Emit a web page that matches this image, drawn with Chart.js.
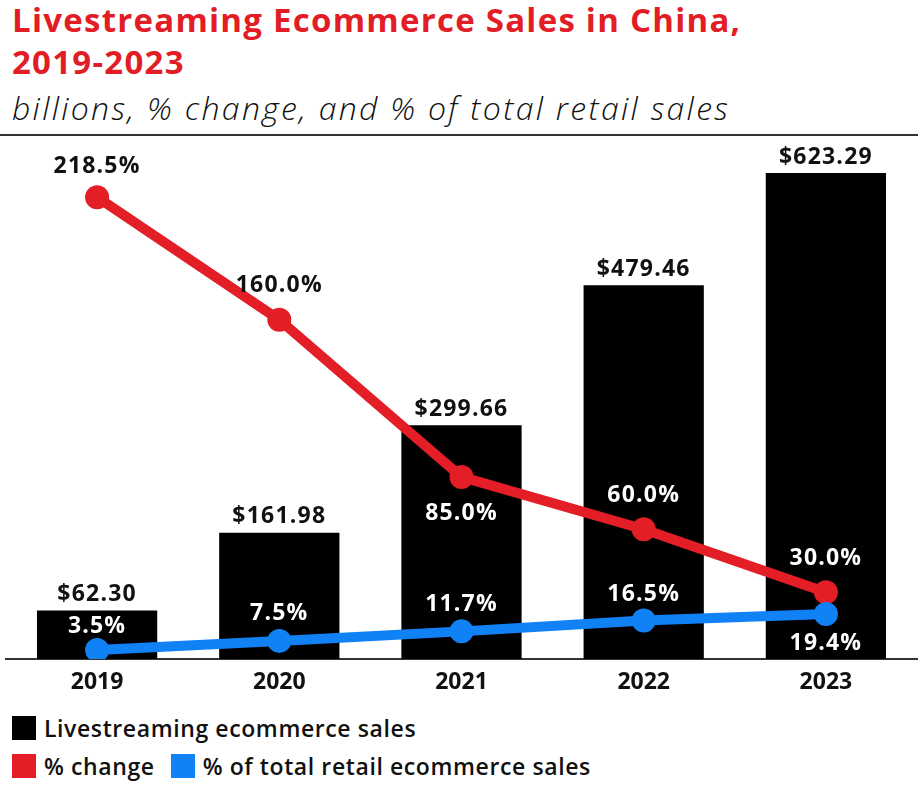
<!DOCTYPE html>
<html>
<head>
<meta charset="utf-8">
<script src="https://cdn.jsdelivr.net/npm/chart.js@4.4.0/dist/chart.umd.min.js"></script>
<style>
  html, body { margin: 0; padding: 0; background: #fff; }
  body { width: 918px; height: 790px; position: relative; overflow: hidden; font-family: "Open Sans", sans-serif; }
  .title { position: absolute; left: 12px; top: -1px; font-family: "Open Sans", sans-serif; font-weight: 700; font-size: 33px; line-height: 42px; color: #e21d25; letter-spacing: 1.25px; white-space: nowrap; }
  .sub { position: absolute; left: 12px; top: 89px; font-family: "Open Sans", sans-serif; font-weight: 300; font-style: italic; font-size: 32px; line-height: 38px; color: #111; letter-spacing: 2.3px; white-space: nowrap; }
  .rule { position: absolute; left: 0; top: 134px; width: 918px; height: 2px; background: #333; }
  .wrap { position: absolute; left: 0; top: 137px; width: 918px; height: 563px; }
  .legend { position: absolute; left: 12px; font-weight: 600; font-size: 23px; color: #111; display: flex; align-items: center; letter-spacing: 0.6px; white-space: nowrap; }
  .legend span.box { display: inline-block; width: 24px; height: 24px; margin-right: 8px; }
</style>
</head>
<body>
<div class="title">Livestreaming Ecommerce Sales in China,<br>2019-2023</div>
<div class="sub">billions, % change, and % of total retail sales</div>
<div class="rule"></div>
<div class="wrap"><canvas id="myChart"></canvas></div>
<div class="legend" style="top:712px"><span class="box" style="background:#000"></span>Livestreaming ecommerce sales</div>
<div class="legend" style="top:750px"><span class="box" style="background:#e41e26"></span>% change<span class="box" style="background:#1181f6;margin-left:16px"></span>% of total retail ecommerce sales</div>
<script>
const ctx = document.getElementById('myChart');

// data
const years = ['2019', '2020', '2021', '2022', '2023'];
const salesBillions = [62.30, 161.98, 299.66, 479.46, 623.29];   // livestreaming ecommerce sales, $ billions
const pctChange = [218.5, 160.0, 85.0, 60.0, 30.0];           // % change
const pctOfTotal = [3.5, 7.5, 11.7, 16.5, 19.4];              // % of total retail ecommerce sales

// label placement (px from the point) and colours
const salesLabelOffset = [-16, -16, -16, -16, -16];
const changeLabelOffset = [-31, -34, 37, -34, -34];
const changeLabelColor = ['#111', '#111', '#fff', '#fff', '#fff'];
const shareLabelOffset = [-23, -27, -27, -26, 30];
const shareLabelColor = ['#fff', '#fff', '#fff', '#fff', '#fff'];

const RED = '#e41e26';
const BLUE = '#1181f6';

const pointLabels = {
  id: 'pointLabels',
  afterDatasetsDraw(chart) {
    const c = chart.ctx;
    c.save();
    c.font = '700 23px "Open Sans"';
    c.letterSpacing = '1.2px';
    c.textAlign = 'center';
    c.textBaseline = 'middle';
    chart.data.datasets.forEach((ds, i) => {
      const meta = chart.getDatasetMeta(i);
      meta.data.forEach((el, j) => {
        c.fillStyle = ds.lblColor[j];
        c.fillText(ds.lblText(ds.data[j]), el.x, el.y + ds.lblOffset[j]);
      });
    });
    c.restore();
  }
};

new Chart(ctx, {
  type: 'bar',
  data: {
    labels: years,
    datasets: [
      {
        type: 'line',
        label: '% of total retail ecommerce sales',
        data: pctOfTotal,
        yAxisID: 'yShare',
        borderColor: BLUE,
        backgroundColor: BLUE,
        pointBackgroundColor: BLUE,
        borderWidth: 10,
        pointRadius: 12,
        pointHoverRadius: 12,
        pointBorderWidth: 0,
        order: 1,
        lblText: v => v.toFixed(1) + '%',
        lblOffset: shareLabelOffset,
        lblColor: shareLabelColor
      },
      {
        type: 'line',
        label: '% change',
        data: pctChange,
        yAxisID: 'yChange',
        borderColor: RED,
        backgroundColor: RED,
        pointBackgroundColor: RED,
        borderWidth: 10,
        pointRadius: 12,
        pointHoverRadius: 12,
        pointBorderWidth: 0,
        order: 2,
        lblText: v => v.toFixed(1) + '%',
        lblOffset: changeLabelOffset,
        lblColor: changeLabelColor
      },
      {
        label: 'Livestreaming ecommerce sales',
        data: salesBillions,
        yAxisID: 'y',
        backgroundColor: '#000',
        categoryPercentage: 1,
        barPercentage: 0.66,
        order: 3,
        lblText: v => '$' + v.toFixed(2),
        lblOffset: salesLabelOffset,
        lblColor: ['#111', '#111', '#111', '#111', '#111']
      }
    ]
  },
  options: {
    responsive: true,
    maintainAspectRatio: false,
    animation: false,
    layout: { autoPadding: false, padding: { top: 3, left: 6, right: 1, bottom: 0 } },
    plugins: {
      legend: { display: false },
      tooltip: { enabled: false }
    },
    scales: {
      x: {
        grid: { display: false, drawTicks: false },
        border: { display: true, color: '#333', width: 2 },
        ticks: { color: '#111', font: { family: 'Open Sans', weight: '700', size: 23 }, padding: 10 },
        afterFit(scale) { scale.height = 41; }
      },
      y: { display: false, min: 0, max: 665.6 },
      yChange: { display: false, min: -1.9, max: 245.8 },
      yShare: { display: false, min: -0.5, max: 228.7 }
    }
  },
  plugins: [pointLabels]
});
</script>
</body>
</html>
